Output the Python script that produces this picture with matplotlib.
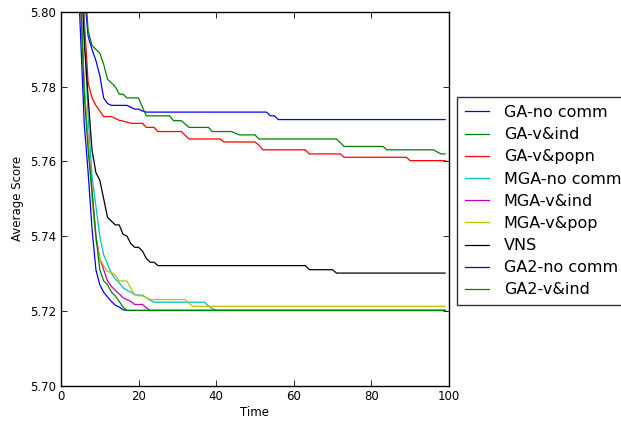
import numpy as np
import matplotlib
matplotlib.use("Agg")
import matplotlib.pyplot as plt

# time steps 0..99
time = np.arange(100)

labels = ["GA-no comm", "GA-v&ind", "GA-v&popn", "MGA-no comm", "MGA-v&ind",
          "MGA-v&pop", "VNS", "GA2-no comm", "GA2-v&ind"]
colors = ["b", "g", "r", "c", "m", "y", "k", "b", "g"]


def steps(head, plateaus):
    """head: explicit values from t=0; plateaus: list of (value, last_t)."""
    vals = list(head)
    for v, last in plateaus:
        while len(vals) <= last:
            vals.append(v)
    return vals


ga_no_comm = steps(
    [5.90, 5.89, 5.88, 5.86, 5.85, 5.83, 5.805, 5.7935, 5.790, 5.787, 5.783,
     5.777, 5.7755, 5.775, 5.775, 5.775, 5.775, 5.775, 5.7745, 5.774, 5.774,
     5.7735],
    [(5.7732, 53), (5.7722, 55), (5.7712, 99)])

ga_v_ind = steps(
    [5.90, 5.89, 5.88, 5.86, 5.85, 5.84, 5.81, 5.795, 5.791, 5.790, 5.789,
     5.786, 5.782, 5.781, 5.780, 5.778, 5.778, 5.777, 5.777, 5.777, 5.777,
     5.7745],
    [(5.7722, 28), (5.7709, 31), (5.770, 32), (5.7691, 38), (5.768, 44),
     (5.7675, 45), (5.7671, 50), (5.766, 71), (5.765, 72), (5.764, 83),
     (5.7631, 96), (5.7625, 97), (5.762, 99)])

ga_v_popn = steps(
    [5.90, 5.89, 5.88, 5.87, 5.86, 5.83, 5.798, 5.781, 5.777, 5.775, 5.7735,
     5.772, 5.772, 5.772, 5.7715, 5.771, 5.7708, 5.7705],
    [(5.7702, 21), (5.7691, 24), (5.768, 31), (5.767, 32), (5.766, 41),
     (5.7652, 50), (5.7644, 51), (5.7631, 63), (5.762, 72), (5.7611, 89),
     (5.7602, 99)])

mga_no_comm = steps(
    [5.90, 5.89, 5.88, 5.87, 5.85, 5.82, 5.795, 5.772, 5.756, 5.748, 5.740,
     5.735, 5.7325, 5.730, 5.7285, 5.7275, 5.7262, 5.7255, 5.725, 5.7243,
     5.7242, 5.7242, 5.7235, 5.7228],
    [(5.7223, 37), (5.7213, 38), (5.7206, 39), (5.7201, 99)])

mga_v_ind = steps(
    [5.90, 5.89, 5.88, 5.86, 5.83, 5.805, 5.780, 5.765, 5.752, 5.740, 5.734,
     5.731, 5.728, 5.7265, 5.7255, 5.7245, 5.7235, 5.723, 5.7225, 5.7217,
     5.7217, 5.7217, 5.7208],
    [(5.7201, 99)])

mga_v_pop = steps(
    [5.90, 5.89, 5.88, 5.86, 5.83, 5.805, 5.780, 5.765, 5.750, 5.739, 5.734,
     5.732, 5.7305, 5.7303, 5.7295, 5.728, 5.728, 5.728, 5.726, 5.7243,
     5.724, 5.724, 5.7235],
    [(5.723, 32), (5.722, 33), (5.7212, 99)])

vns = steps(
    [5.90, 5.89, 5.88, 5.87, 5.86, 5.815, 5.792, 5.777, 5.763, 5.757, 5.755,
     5.750, 5.745, 5.744, 5.743, 5.743, 5.7405, 5.740, 5.738, 5.737, 5.737,
     5.736, 5.734, 5.733, 5.733],
    [(5.7321, 63), (5.731, 70), (5.7301, 99)])

ga2_no_comm = steps(
    [5.90, 5.88, 5.86, 5.84, 5.82, 5.795, 5.770, 5.757, 5.742, 5.731, 5.727,
     5.725, 5.7237, 5.7225, 5.7215, 5.721, 5.7203],
    [(5.7201, 99)])

ga2_v_ind = steps(
    [5.90, 5.88, 5.86, 5.845, 5.83, 5.805, 5.778, 5.763, 5.752, 5.740, 5.731,
     5.728, 5.727, 5.725, 5.724, 5.7225, 5.721],
    [(5.7201, 99)])

series = [ga_no_comm, ga_v_ind, ga_v_popn, mga_no_comm, mga_v_ind,
          mga_v_pop, vns, ga2_no_comm, ga2_v_ind]

fig = plt.figure(figsize=(6.21, 4.21), dpi=100)
ax = fig.add_axes([0.0982, 0.0843, 0.6248, 0.8872])

for vals, lab, col in zip(series, labels, colors):
    ax.plot(time, vals, color=col, linewidth=0.9, label=lab)

ax.set_xlim(0, 100)
ax.set_ylim(5.70, 5.80)
ax.set_xticks(np.arange(0, 101, 20))
ax.set_yticks(np.arange(5.70, 5.801, 0.02))
ax.yaxis.set_major_formatter(matplotlib.ticker.FormatStrFormatter("%.2f"))
ax.tick_params(direction="in", top=True, right=True, labelsize=8.5,
               length=4, width=0.6)
for sp in ax.spines.values():
    sp.set_linewidth(1.0)
ax.set_xlabel("Time", fontsize=8.5, labelpad=2)
ax.set_ylabel("Average Score", fontsize=8.5)

# legend sits outside the axes and runs off the right edge, as in the original
leg = ax.legend(loc="upper left", bbox_to_anchor=(0.7354, 0.7696),
                bbox_transform=fig.transFigure, borderaxespad=0,
                fontsize=11.5, fancybox=False, handlelength=1.5,
                handletextpad=0.95, labelspacing=0.45, borderpad=0.5)
leg.get_frame().set_edgecolor("black")
leg.get_frame().set_linewidth(1.0)

fig.savefig("out.png", dpi=100)
